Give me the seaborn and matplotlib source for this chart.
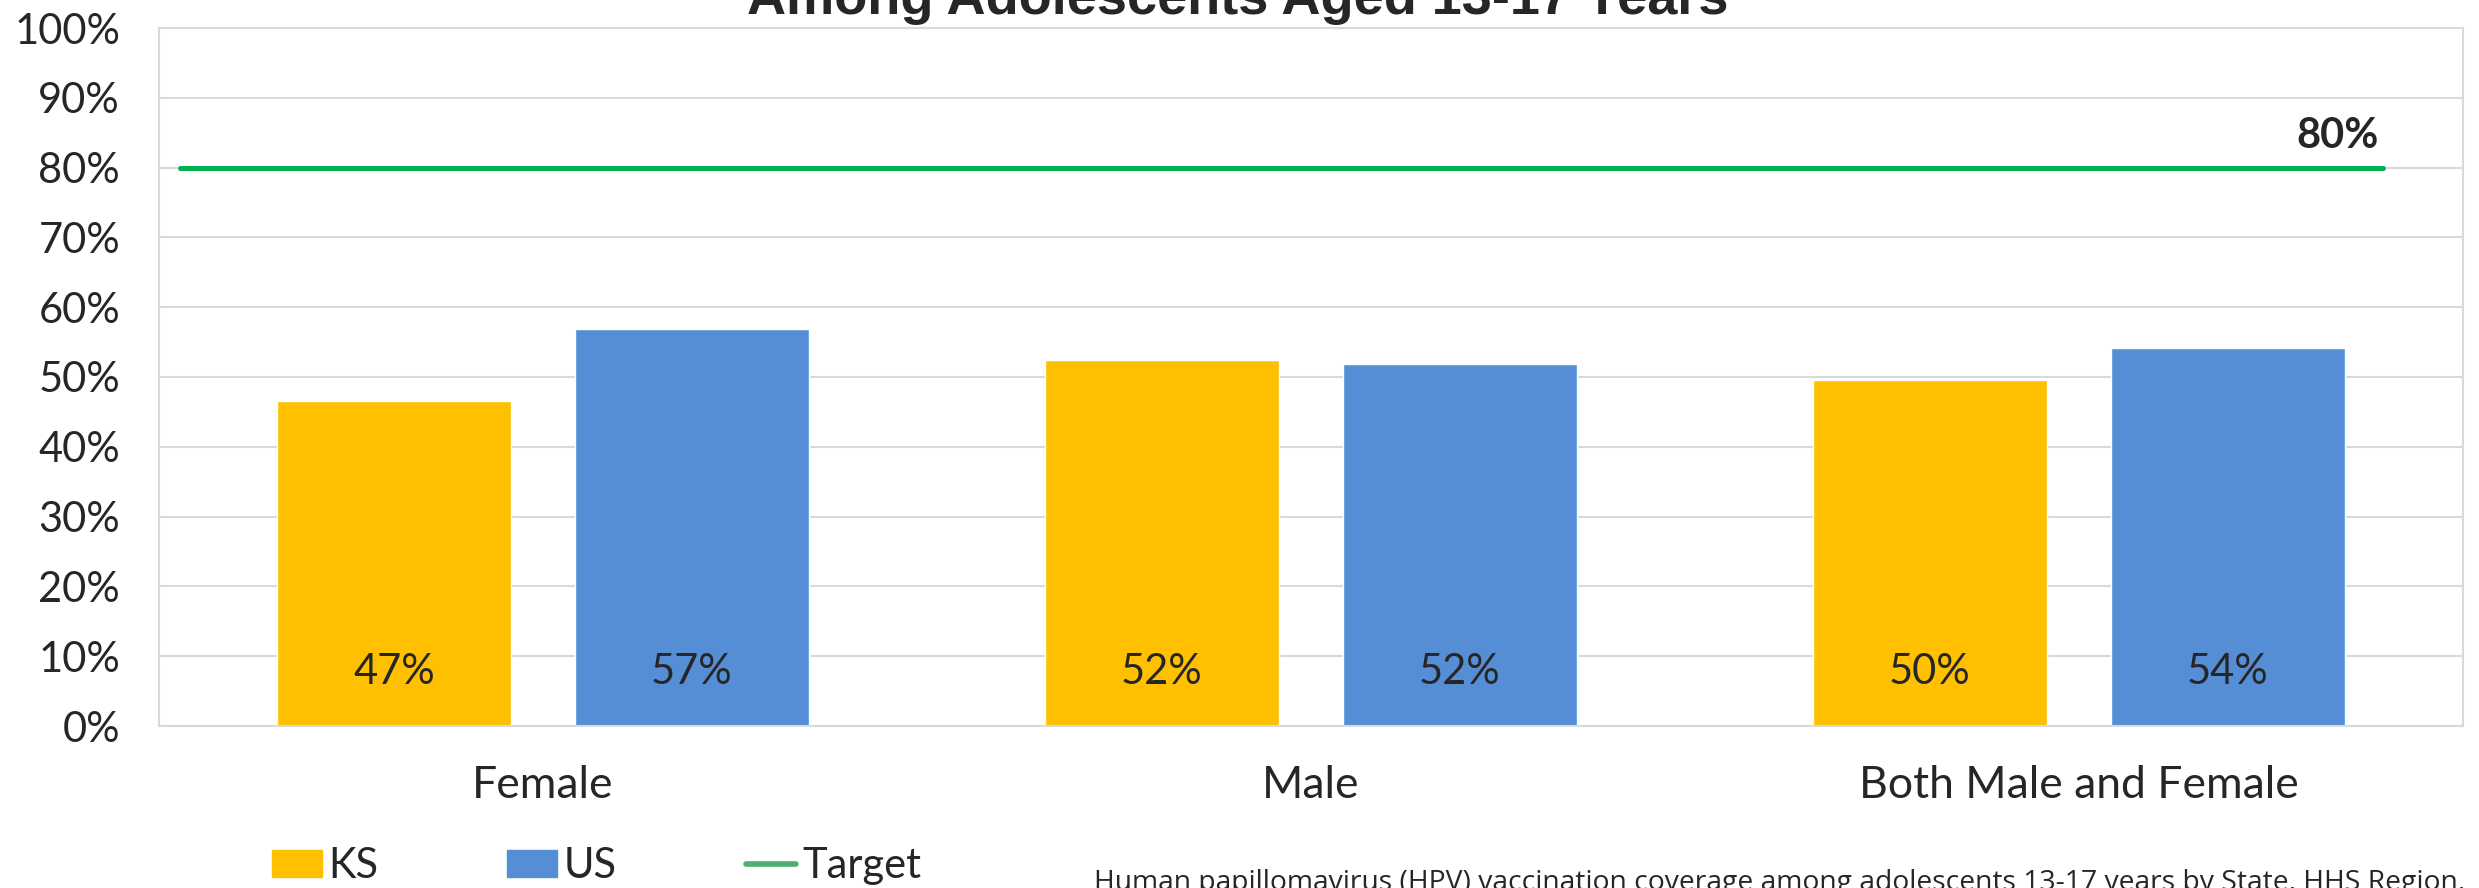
import pandas as pd
import numpy as np
import seaborn as sns
import matplotlib.pyplot as plt
from matplotlib.patches import Patch
from matplotlib.lines import Line2D

# data
groups = ["Female", "Male", "Both Male and Female"]
ks_values = [0.466, 0.524, 0.495]
us_values = [0.569, 0.519, 0.542]
ks_labels = ["47%", "52%", "50%"]
us_labels = ["57%", "52%", "54%"]
target = 0.80
series = ["KS", "US"]
colors = ["#FFC000", "#558ED5"]
target_color = "#00B050"

df = pd.DataFrame({
    "group": groups * 2,
    "state": ["KS"] * 3 + ["US"] * 3,
    "value": ks_values + us_values,
})

sns.set_style("white")
plt.rcParams["font.family"] = ["Lato", "DejaVu Sans"]

fig = plt.figure(figsize=(24.79, 8.88), dpi=100)
ax = fig.add_axes([159 / 2479, 1 - 726 / 888, (2463 - 159) / 2479, (726 - 28) / 888])

sns.barplot(data=df, x="group", y="value", hue="state", hue_order=series,
            palette=colors, width=0.776, gap=0.214, saturation=1,
            legend=False, ax=ax, zorder=2)

# target line
ax.axhline(target, xmin=0.0091, xmax=0.9653, color=target_color, lw=3.6, zorder=3)
ax.text(0.9457, target + 0.045, "80%", transform=ax.get_yaxis_transform(),
        ha="center", va="center", fontsize=30, fontweight="bold")

# labels inside the bars near the base
labels = ks_labels + us_labels
for p, lab in zip(ax.patches, labels):
    ax.text(p.get_x() + p.get_width() / 2, 0.077, lab, ha="center", va="center",
            fontsize=30, zorder=4)

ax.set_ylim(0, 1)
ax.set_yticks(np.arange(0, 1.01, 0.1))
ax.set_yticklabels([f"{int(round(v * 100))}%" for v in np.arange(0, 1.01, 0.1)])
ax.set_xlabel("")
ax.set_ylabel("")
ax.tick_params(axis="y", length=0, pad=28, labelsize=30)
ax.tick_params(axis="x", length=0, pad=28, labelsize=32)
ax.grid(axis="y", color="#d9d9d9", lw=1.5, zorder=0)
ax.set_axisbelow(True)
for s in ax.spines.values():
    s.set_color("#d9d9d9")
    s.set_linewidth(1.5)

# legend
handles = [Patch(color=colors[0]), Patch(color=colors[1]),
           Line2D([0], [0], color="#4CAF70", lw=4)]
fig.legend(handles, ["KS", "US", "Target"], loc="center left",
           bbox_to_anchor=(272 / 2479, 1 - 866 / 888), ncol=3, frameon=False,
           fontsize=30, borderpad=0, borderaxespad=0, handlelength=1.2,
           handleheight=0.6, handletextpad=0.15, columnspacing=3.1)

# title (top line cut off in the original)
fig.text(0.4994, 1 - 14 / 888, "Among Adolescents Aged 13-17 Years", ha="center",
         va="baseline", fontsize=39, fontweight="bold", family="Liberation Sans")

fig.text(1094 / 2479, -2 / 888,
         "Human papillomavirus (HPV) vaccination coverage among adolescents 13-17 years by State, HHS Region,",
         ha="left", va="baseline", fontsize=20.3, family="Open Sans")

fig.savefig("out.png", dpi=100)
